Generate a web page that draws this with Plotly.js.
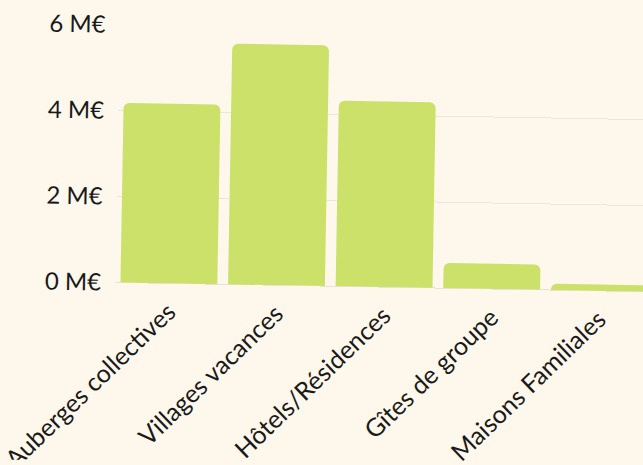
<!DOCTYPE html>
<html>
<head>
<meta charset="utf-8">
<script src="https://cdn.plot.ly/plotly-3.0.1.min.js"></script>
<style>
html,body{margin:0;padding:0;width:643px;height:465px;overflow:hidden;background:#FDF7EC;}
#chart{width:680px;height:465px;transform:rotate(1deg);transform-origin:320px 232px;}
</style>
</head>
<body>
<div id="chart"></div>
<script>
var categories = ["Auberges collectives", "Villages vacances", "Hôtels/Résidences", "Gîtes de groupe", "Maisons Familiales"];
var values = [4.18, 5.6, 4.32, 0.59, 0.15];
var tickVals = [0, 2, 4, 6];
var tickText = ["0 M€", "2 M€", "4 M€", "6 M€"];

var trace = {
  type: "bar",
  x: categories,
  y: values,
  marker: {color: "#CBE169", cornerradius: 6},
  hoverinfo: "none"
};

var layout = {
  width: 680,
  height: 465,
  margin: {l: 116, r: 26, t: 28, b: 179},
  paper_bgcolor: "#FDF7EC",
  plot_bgcolor: "#FDF7EC",
  bargap: 0.1,
  showlegend: false,
  font: {family: "Lato, sans-serif", color: "#1a1a1a", size: 22},
  xaxis: {
    type: "category",
    tickangle: -45,
    showgrid: false,
    zeroline: false,
    showline: false,
    ticks: "",
    ticklabelstandoff: 8,
    tickfont: {size: 25, color: "#1a1a1a"}
  },
  yaxis: {
    range: [0, 6],
    tickvals: tickVals,
    ticktext: tickText,
    showgrid: true,
    gridcolor: "#EDE7DB",
    gridwidth: 1,
    zeroline: true,
    zerolinecolor: "#E8E2D6",
    showline: false,
    ticks: "",
    ticklabelstandoff: 13,
    tickfont: {size: 24, color: "#1a1a1a"}
  }
};

Plotly.newPlot("chart", [trace], layout, {displayModeBar: false, staticPlot: true});
</script>
</body>
</html>
